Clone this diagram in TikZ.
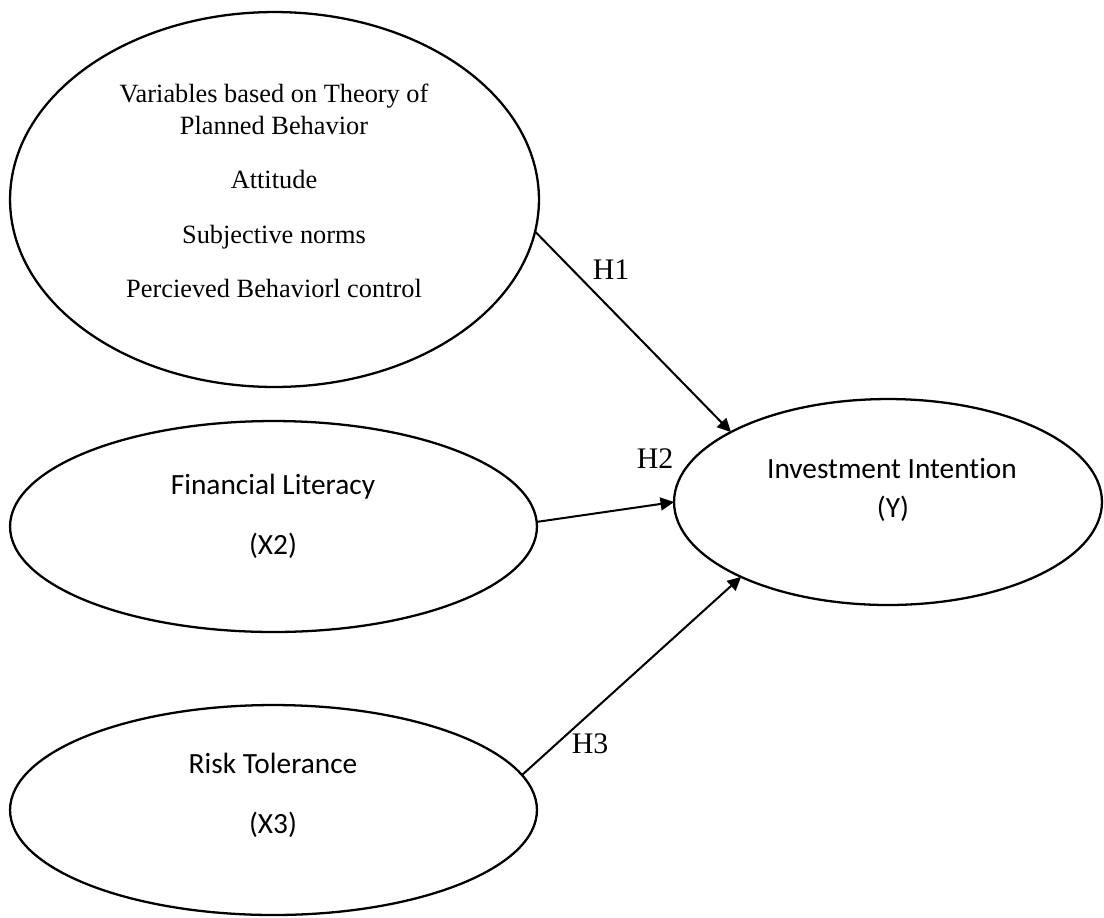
\documentclass[tikz,border=0pt]{standalone}
\usepackage{fontspec}
\setmainfont{Liberation Serif}
\newfontfamily\calibfont{Carlito}[Ligatures=NoCommon]
\usetikzlibrary{shapes.geometric,arrows.meta}
\begin{document}
\begin{tikzpicture}[x=0.02cm,y=-0.02cm,
  oval/.style={draw, ellipse, line width=1.3pt, inner sep=0pt, outer sep=0pt},
  serif/.style={font=\fontsize{15}{17}\selectfont, anchor=base, inner sep=0pt},
  sans/.style={font=\calibfont\fontsize{16.7}{19}\selectfont, anchor=base, inner sep=0pt},
  hyp/.style={font=\fontsize{17}{20}\selectfont, anchor=base, inner sep=0pt},
  link/.style={line width=1.15pt, -{Triangle[length=0.27cm,width=0.26cm]}}]
\useasboundingbox (0,0) rectangle (1104,917);
% ellipses
\node[oval, minimum width=10.58cm, minimum height=7.5cm] (tpb) at (274.5,199.5) {};
\node[oval, minimum width=10.54cm, minimum height=4.22cm] (fin) at (273.5,526.5) {};
\node[oval, minimum width=10.54cm, minimum height=4.2cm] (risk) at (273.5,810) {};
\node[oval, minimum width=8.56cm, minimum height=4.12cm] (inv) at (888,502) {};
% texts
\node[serif] (t1) at (274,102) {Variables based on Theory of};
\node[serif] (t2) at (274,134) {Planned Behavior};
\node[serif] (t3) at (274,188) {Attitude};
\node[serif] (t4) at (274,243) {Subjective norms};
\node[serif] (t5) at (274,297) {Percieved Behaviorl control};
\node[sans] (f1) at (273,494) {Financial Literacy};
\node[sans] (f2) at (273,554) {(X2)};
\node[sans] (r1) at (273,773) {Risk Tolerance};
\node[sans] (r2) at (273,833) {(X3)};
\node[sans] (y1) at (892,478) {Investment Intention};
\node[sans] (y2) at (893,517) {(Y)};
% connectors
\draw[link] (tpb.-7.3) -- (inv.156.5);
\draw[link] (fin.1.6) -- (inv.180);
\draw[link] (risk.8.5) -- (inv.207.7);
% labels
\node[hyp] (h1) at (611,279) {H1};
\node[hyp] (h2) at (655,468) {H2};
\node[hyp] (h3) at (590,753) {H3};
\end{tikzpicture}
\end{document}
